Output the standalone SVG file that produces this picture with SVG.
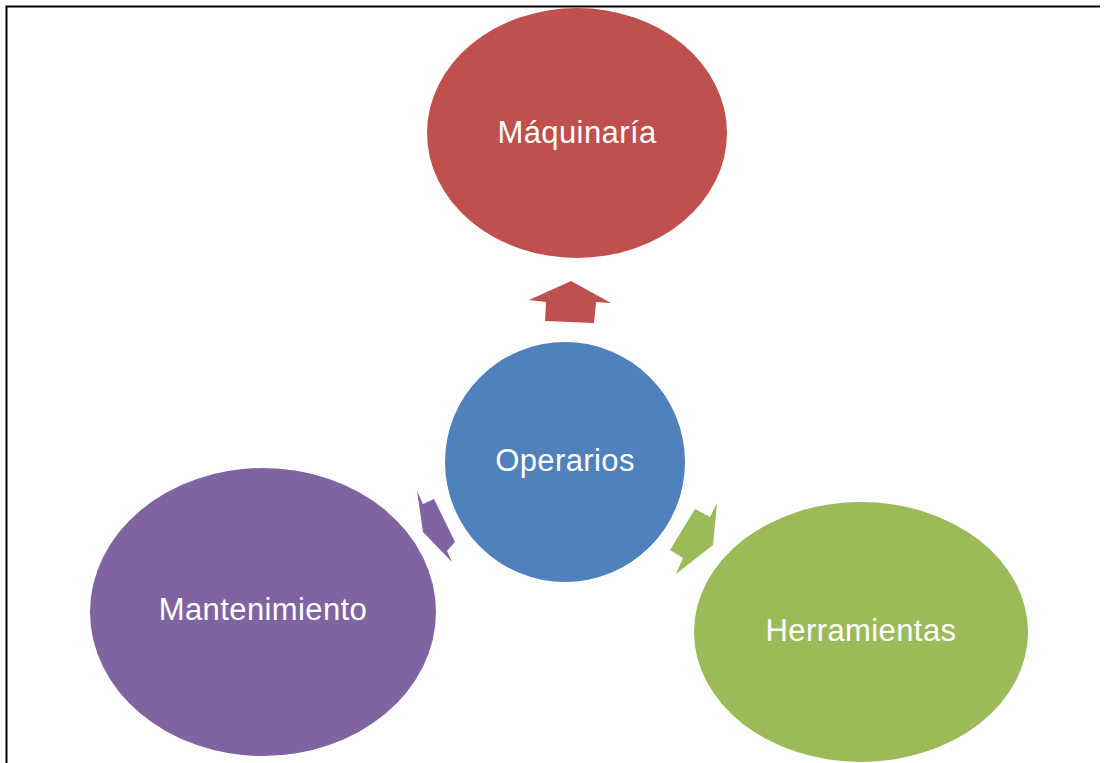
<svg xmlns="http://www.w3.org/2000/svg" width="1110" height="763" viewBox="0 0 1110 763">
<style>
.lbl{font-family:"Liberation Sans",Arial,sans-serif;font-size:31px;letter-spacing:0.4px;fill:#fff;text-anchor:middle}
.frame{stroke:#000;stroke-width:2;fill:none}
</style>
<rect width="1110" height="763" fill="#fff"/>
<path class="frame" d="M6.5,763 V6.5 H1100"/>
<g id="connectors">
<polygon fill="#C0504D" points="571,281 611,303 596,302 594,323 545,321 546,302 529,300"/>
<polygon fill="#8064A2" points="417,491 423,504 434,499 455,542 447,551 452,562 423,532"/>
<polygon fill="#9BBB59" points="717,503 713,545 676,574 683,558 670,550 695,509 710,517"/>
</g>
<g id="maquinaria">
<ellipse cx="577" cy="133" rx="150" ry="125" fill="#C0504D"/>
<text class="lbl" x="577" y="143">Máquinaría</text>
</g>
<g id="operarios">
<circle cx="565" cy="462" r="120" fill="#4F81BD"/>
<text class="lbl" x="565" y="471">Operarios</text>
</g>
<g id="mantenimiento">
<ellipse cx="263" cy="612" rx="173" ry="144" fill="#8064A2"/>
<text class="lbl" x="263" y="620">Mantenimiento</text>
</g>
<g id="herramientas">
<ellipse cx="861" cy="632" rx="167" ry="130" fill="#9BBB59"/>
<text class="lbl" x="861" y="641">Herramientas</text>
</g>
</svg>
